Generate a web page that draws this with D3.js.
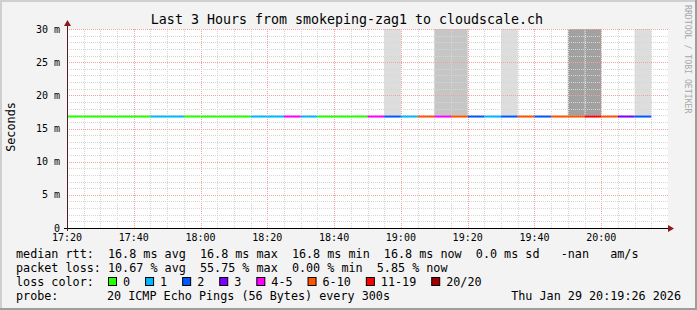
<!DOCTYPE html>
<html>
<head>
<meta charset="utf-8">
<script src="https://cdn.jsdelivr.net/npm/d3@7"></script>
<style>
  body { margin: 0; background: #f3f3f3; }
  text { font-family: "DejaVu Sans Mono", monospace; white-space: pre; }
</style>
</head>
<body>
<div id="chart"></div>
<script>
// data: one sample per 5 minute step, 17:20 -> 20:15
const startTime = new Date(2026, 0, 29, 17, 20);
const endTime = new Date(2026, 0, 29, 20, 20);
const stepMinutes = 5;

// median rtt per step (seconds)
const medianRtt = [
  0.0168, 0.0168, 0.0168, 0.0168, 0.0168, 0.0168, 0.0168, 0.0168, 0.0168, 0.0168,
  0.0168, 0.0168, 0.0168, 0.0168, 0.0168, 0.0168, 0.0168, 0.0168, 0.0168, 0.0168,
  0.0168, 0.0168, 0.0168, 0.0168, 0.0168, 0.0168, 0.0168, 0.0168, 0.0168, 0.0168,
  0.0168, 0.0168, 0.0168, 0.0168, 0.0168
];
// loss class index per step (into lossLabels)
const lossClass = [
  0, 0, 0, 0, 0, 1, 1, 0, 0, 0,
  0, 1, 1, 4, 1, 0, 0, 0, 4, 2,
  1, 5, 4, 5, 2, 1, 2, 5, 2, 5,
  5, 6, 5, 3, 2
];
// smoke density per step (0 = none)
const smokeLevel = [
  0, 0, 0, 0, 0, 0, 0, 0, 0, 0,
  0, 0, 0, 0, 0, 0, 0, 0, 0, 1,
  0, 0, 2, 2, 0, 0, 1, 0, 0, 0,
  3, 3, 0, 0, 1
];

const lossLabels = ["0", "1", "2", "3", "4-5", "6-10", "11-19", "20/20"];
const lossColors = ["#26ff00", "#00b8ff", "#0059ff", "#7e00ff", "#ff00ff", "#ff5500", "#ff0000", "#a10000"];
const smokeColors = ["none", "#dddddd", "#c6c6c6", "#a1a1a1"];

const yTicks = [0, 0.005, 0.010, 0.015, 0.020, 0.025, 0.030];
const yTickLabels = ["0", "5 m", "10 m", "15 m", "20 m", "25 m", "30 m"];

const legendLines = [
  "median rtt:  16.8 ms avg  16.8 ms max  16.8 ms min  16.8 ms now  0.0 ms sd   -nan   am/s",
  "packet loss: 10.67 % avg  55.75 % max  0.00 % min  5.85 % now"
];
const probeText = "20 ICMP Echo Pings (56 Bytes) every 300s";
const dateText = "Thu Jan 29 20:19:26 2026";
const titleText = "Last 3 Hours from smokeping-zag1 to cloudscale.ch";

const W = 697, H = 310;
const plot = { left: 67, right: 668, top: 29, bottom: 228 };

const svg = d3.select("#chart").append("svg")
    .attr("width", W)
    .attr("height", H);

// background + 3d border
svg.append("rect").attr("width", W).attr("height", H).attr("fill", "#f3f3f3");
svg.append("path").attr("d", `M0,0H${W}V${H}H0Z`).attr("fill", "none");
svg.append("rect").attr("x", 0).attr("y", 0).attr("width", W).attr("height", 2).attr("fill", "#cfcfcf");
svg.append("rect").attr("x", 0).attr("y", 0).attr("width", 2).attr("height", H).attr("fill", "#cfcfcf");
svg.append("rect").attr("x", 0).attr("y", H - 2).attr("width", W).attr("height", 2).attr("fill", "#9e9e9e");
svg.append("rect").attr("x", W - 2).attr("y", 0).attr("width", 2).attr("height", H).attr("fill", "#9e9e9e");

// scales
const x = d3.scaleTime().domain([startTime, endTime]).range([plot.left, plot.right]);
const y = d3.scaleLinear().domain([0, 0.030]).range([plot.bottom, plot.top]);

svg.append("rect")
    .attr("x", plot.left).attr("y", plot.top)
    .attr("width", plot.right - plot.left).attr("height", plot.bottom - plot.top)
    .attr("fill", "#ffffff");

const steps = medianRtt.map((v, i) => ({
    t0: d3.timeMinute.offset(startTime, i * stepMinutes),
    t1: d3.timeMinute.offset(startTime, (i + 1) * stepMinutes),
    rtt: v,
    loss: lossClass[i],
    smoke: smokeLevel[i]
}));

// smoke
svg.append("g").selectAll("rect")
    .data(steps.filter(d => d.smoke > 0))
    .enter().append("rect")
    .attr("x", d => x(d.t0))
    .attr("width", d => x(d.t1) - x(d.t0))
    .attr("y", y(0.030))
    .attr("height", d => y(d.rtt) - y(0.030))
    .attr("fill", d => smokeColors[d.smoke]);

// grid
const grid = svg.append("g").attr("shape-rendering", "crispEdges");
const minorX = d3.timeMinute.every(5).range(startTime, endTime).filter(t => t > startTime);
const minorY = d3.range(1, 30).map(v => v / 1000);

grid.selectAll(".vx")
    .data(minorX)
    .enter().append("line")
    .attr("x1", d => Math.round(x(d)) + 0.5).attr("x2", d => Math.round(x(d)) + 0.5)
    .attr("y1", plot.top).attr("y2", plot.bottom)
    .attr("stroke", d => d.getMinutes() % 20 === 0 ? "#f4a3a3" : "#d6d6d6")
    .attr("stroke-dasharray", "1,1");

grid.selectAll(".hy")
    .data(minorY.concat([0.030]))
    .enter().append("line")
    .attr("x1", plot.left).attr("x2", plot.right)
    .attr("y1", d => Math.round(y(d)) + 0.5).attr("y2", d => Math.round(y(d)) + 0.5)
    .attr("stroke", d => Math.round(d * 1000) % 5 === 0 ? "#f4a3a3" : "#d6d6d6")
    .attr("stroke-dasharray", "1,1");

// median line, coloured by loss
svg.append("g").selectAll("line")
    .data(steps)
    .enter().append("line")
    .attr("x1", d => x(d.t0)).attr("x2", d => x(d.t1))
    .attr("y1", d => y(d.rtt)).attr("y2", d => y(d.rtt))
    .attr("stroke", d => lossColors[d.loss])
    .attr("stroke-width", 2);

// axes
svg.append("line")
    .attr("x1", plot.left - 3).attr("x2", plot.right + 2)
    .attr("y1", plot.bottom + 0.5).attr("y2", plot.bottom + 0.5)
    .attr("stroke", "#000").attr("stroke-width", 1);
svg.append("line")
    .attr("x1", plot.left + 0.5).attr("x2", plot.left + 0.5)
    .attr("y1", plot.bottom + 3).attr("y2", plot.top - 4)
    .attr("stroke", "#4a2020").attr("stroke-width", 1);
svg.append("path")
    .attr("d", `M${plot.left - 3},${plot.top - 3}L${plot.left + 0.5},${plot.top - 9}L${plot.left + 4},${plot.top - 3}Z`)
    .attr("fill", "#8b1a1a");
svg.append("path")
    .attr("d", `M${plot.right},${plot.bottom - 3}L${plot.right + 6},${plot.bottom + 0.5}L${plot.right},${plot.bottom + 4}Z`)
    .attr("fill", "#8b1a1a");

// tick labels
const majorX = d3.timeMinute.every(20).range(startTime, endTime);
svg.append("g").selectAll("text")
    .data(majorX)
    .enter().append("text")
    .attr("x", d => x(d))
    .attr("y", 241)
    .attr("text-anchor", "middle")
    .attr("font-size", "10px")
    .attr("fill", "#000")
    .text(d3.timeFormat("%H:%M"));

svg.append("g").selectAll("text")
    .data(yTicks)
    .enter().append("text")
    .attr("x", 60)
    .attr("y", d => y(d) + 3.5)
    .attr("text-anchor", "end")
    .attr("font-size", "10px")
    .attr("fill", "#000")
    .text((d, i) => yTickLabels[i]);

// title and axis label
svg.append("text")
    .attr("x", 347).attr("y", 24)
    .attr("text-anchor", "middle")
    .attr("font-size", "13.3px")
    .text(titleText);

svg.append("text")
    .attr("transform", "translate(15,127) rotate(-90)")
    .attr("text-anchor", "middle")
    .attr("font-size", "11.8px")
    .text("Seconds");

svg.append("text")
    .attr("transform", "translate(685,5) rotate(90)")
    .attr("font-size", "8.2px")
    .attr("fill", "#a8a8a8")
    .text("RRDTOOL / TOBI OETIKER");

// legend
const fs = "11.75px";
legendLines.forEach((s, i) => {
    svg.append("text")
        .attr("x", 16).attr("y", 258 + i * 14)
        .attr("font-size", fs)
        .text(s);
});

svg.append("text").attr("x", 16).attr("y", 286).attr("font-size", fs).text("loss color:");

let lx = 108;
const lossLegend = svg.append("g");
lossLabels.forEach((lab, i) => {
    lossLegend.append("rect")
        .attr("x", lx + 0.5).attr("y", 277.5)
        .attr("width", 8).attr("height", 8)
        .attr("fill", lossColors[i])
        .attr("stroke", "#000").attr("stroke-width", 1);
    const t = lossLegend.append("text")
        .attr("x", lx + 15).attr("y", 286)
        .attr("font-size", fs)
        .text(lab);
    lx = lx + 15 + t.node().getComputedTextLength() + 15;
});

svg.append("text").attr("x", 16).attr("y", 300).attr("font-size", fs).text("probe:");
svg.append("text").attr("x", 107).attr("y", 300).attr("font-size", fs).text(probeText);
svg.append("text").attr("x", 681).attr("y", 300).attr("text-anchor", "end").attr("font-size", fs).text(dateText);
</script>
</body>
</html>
